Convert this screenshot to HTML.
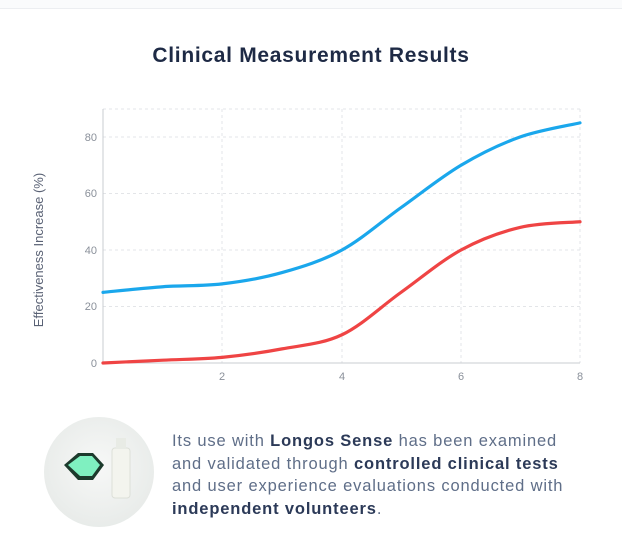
<!DOCTYPE html>
<html><head><meta charset="utf-8"><style>
body{margin:0;background:#fff;width:622px;height:547px;overflow:hidden;font-family:"Liberation Sans",sans-serif;position:relative}
.top{position:absolute;left:0;right:0;top:0;height:8px;border-bottom:1px solid #eceef1;background:#fafbfc}
h1{position:absolute;top:44px;left:0;width:622px;text-align:center;margin:0;font-size:21px;letter-spacing:0.7px;font-weight:bold;color:#1e2a45}
p{position:absolute;left:172px;top:430px;margin:0;font-size:16.5px;letter-spacing:0.85px;line-height:22.7px;color:#5f6e88;width:450px;white-space:nowrap}
p b{color:#2c3a58}
.circ{position:absolute;left:44px;top:417px;width:110px;height:110px;border-radius:50%;background:radial-gradient(circle at 50% 45%,#f7f8f7,#e9ecea 70%,#e2e6e3)}
</style></head><body>
<div class="top"></div>
<h1>Clinical Measurement Results</h1>
<div class="circ"></div>
<svg width="622" height="547" style="position:absolute;left:0;top:0">
<g stroke="#e3e5e8" stroke-dasharray="3,3" stroke-width="1">
<line x1="103" x2="580" y1="137" y2="137"/><line x1="103" x2="580" y1="193.5" y2="193.5"/>
<line x1="103" x2="580" y1="250" y2="250"/><line x1="103" x2="580" y1="306.5" y2="306.5"/>
<line x1="103" x2="580" y1="109" y2="109"/>
<line x1="222" x2="222" y1="109" y2="363"/><line x1="342" x2="342" y1="109" y2="363"/>
<line x1="461" x2="461" y1="109" y2="363"/><line x1="580" x2="580" y1="109" y2="363"/>
</g>
<line x1="103" x2="103" y1="109" y2="363" stroke="#c9ccd1"/>
<line x1="103" x2="580" y1="363" y2="363" stroke="#c9ccd1"/>
<g font-size="11" fill="#8a909a" text-anchor="end">
<text x="97" y="141">80</text><text x="97" y="197">60</text><text x="97" y="254">40</text><text x="97" y="310">20</text><text x="97" y="367">0</text>
</g>
<g font-size="11" fill="#8a909a" text-anchor="middle">
<text x="222" y="380">2</text><text x="342" y="380">4</text><text x="461" y="380">6</text><text x="580" y="380">8</text>
</g>
<text transform="translate(43,250) rotate(-90)" font-size="13" fill="#5a6275" text-anchor="middle">Effectiveness Increase (%)</text>
<path id="b" fill="none" stroke="#1aa7ec" stroke-width="3.2" stroke-linecap="round"/>
<path id="r" fill="none" stroke="#ef4444" stroke-width="3.2" stroke-linecap="round"/>
<g>
<path d="M66 455 L80 443 L95 443 L106 455 L95 470 L80 470Z" transform="translate(-2,10)" fill="#1c3a2c"/>
<path d="M70 455 L82 446 L94 446 L102 455 L94 466 L82 466Z" transform="translate(-2,10)" fill="#7ff0c0"/>
<rect x="112" y="448" width="18" height="50" rx="3" fill="#f3f4ee" stroke="#dcdfd8"/>
<rect x="116" y="438" width="10" height="11" fill="#e8ebe5"/>
</g>
</svg>
<p>Its use with <b>Longos Sense</b> has been examined<br>and validated through <b>controlled clinical tests</b><br>and user experience evaluations conducted with<br><b>independent volunteers</b>.</p>
<script>
function path(pts){let d="M"+pts[0].join(",");for(let i=0;i<pts.length-1;i++){const p0=pts[i-1]||pts[i],p1=pts[i],p2=pts[i+1],p3=pts[i+2]||p2;
const c1=[p1[0]+(p2[0]-p0[0])/6,p1[1]+(p2[1]-p0[1])/6],c2=[p2[0]-(p3[0]-p1[0])/6,p2[1]-(p3[1]-p1[1])/6];
d+=" C"+c1.join(",")+" "+c2.join(",")+" "+p2.join(",");}return d;}
const xs=[103,163,222,282,342,401,461,520,580],y=v=>363-2.825*v;
const B=[25,27,28,32,40,55,70,80,85],R=[0,1,2,5,10,25,40,48,50];
document.getElementById("b").setAttribute("d",path(xs.map((x,i)=>[x,y(B[i])])));
document.getElementById("r").setAttribute("d",path(xs.map((x,i)=>[x,y(R[i])])));
</script>
</body></html>
